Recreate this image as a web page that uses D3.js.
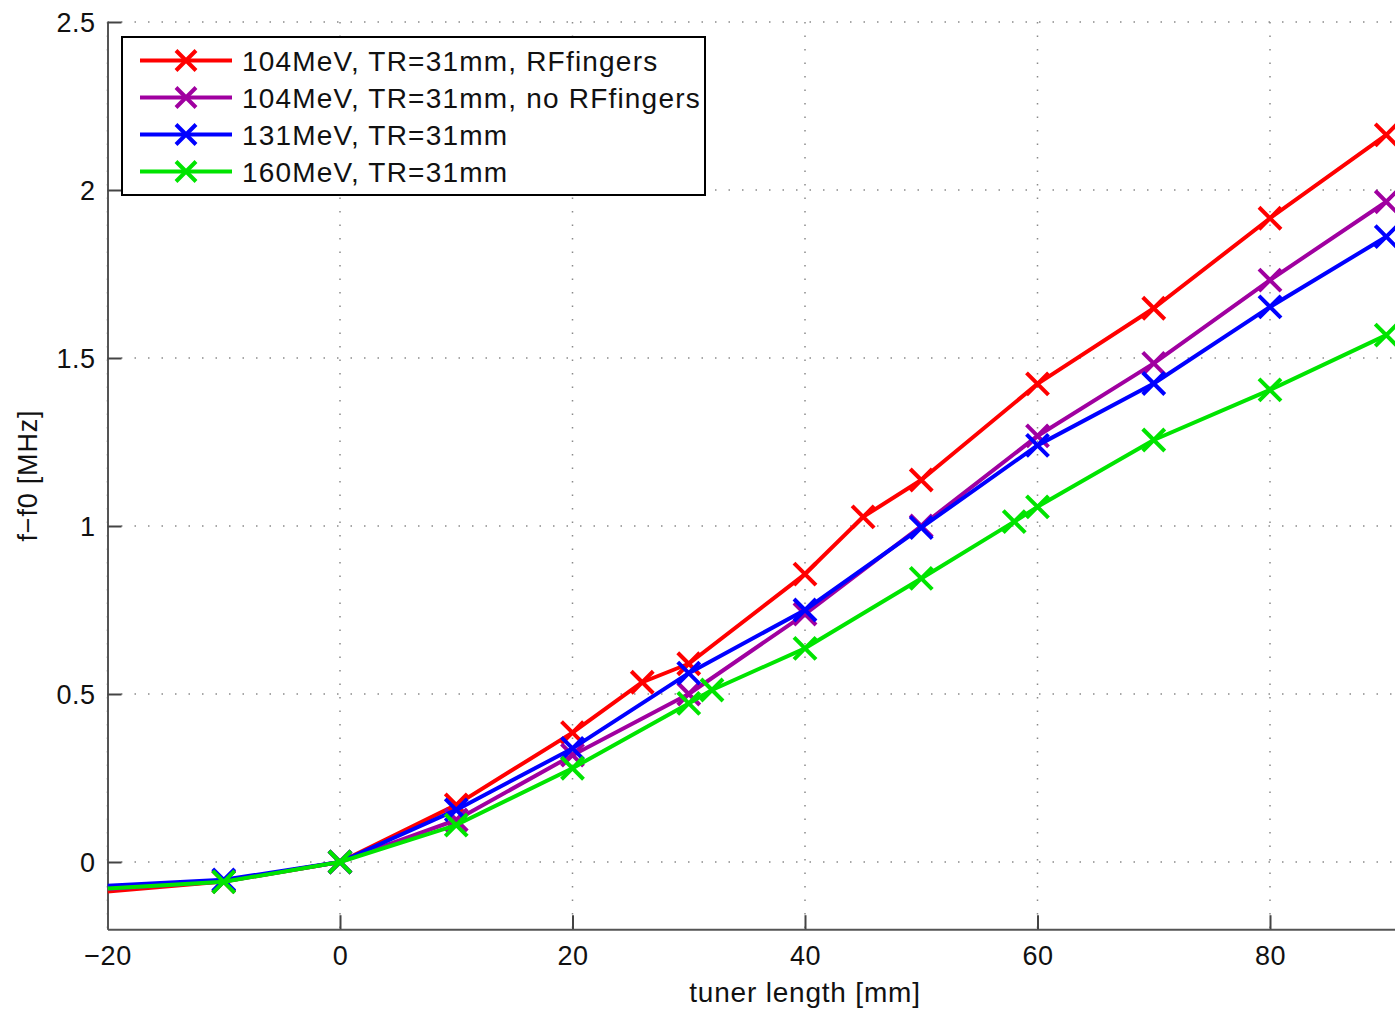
<!DOCTYPE html>
<html>
<head>
<meta charset="utf-8">
<script src="https://d3js.org/d3.v7.min.js"></script>
<style>
  body { margin: 0; background: #fff; }
  svg { display: block; }
</style>
</head>
<body>
<div id="chart"></div>
<script>
// data
var seriesNames = ["104MeV, TR=31mm, RFfingers", "104MeV, TR=31mm, no RFfingers", "131MeV, TR=31mm", "160MeV, TR=31mm"];
var seriesColors = ["#ff0000", "#a000a0", "#0000ff", "#00e400"];

var redX = [-20, -10, 0, 10, 20, 26, 30, 40, 45, 50, 60, 70, 80, 90];
var redY = [-0.088, -0.058, 0, 0.17, 0.385, 0.535, 0.59, 0.857, 1.027, 1.137, 1.423, 1.648, 1.916, 2.164];

var purpleX = [-20, -10, 0, 10, 20, 30, 40, 50, 60, 70, 80, 90];
var purpleY = [-0.08, -0.058, 0, 0.125, 0.318, 0.50, 0.738, 1.0, 1.268, 1.484, 1.732, 1.965];

var blueX = [-20, -10, 0, 10, 20, 30, 40, 50, 60, 70, 80, 90];
var blueY = [-0.071, -0.053, 0, 0.155, 0.338, 0.562, 0.75, 0.995, 1.24, 1.424, 1.652, 1.861];

var greenX = [-20, -10, 0, 10, 20, 30, 32, 40, 50, 58, 60, 70, 80, 90];
var greenY = [-0.079, -0.059, 0, 0.11, 0.279, 0.472, 0.512, 0.636, 0.844, 1.013, 1.057, 1.256, 1.405, 1.568];

var xTicks = [-20, 0, 20, 40, 60, 80];
var yTicks = [0, 0.5, 1, 1.5, 2, 2.5];
var xDomain = [-20, 100];
var yDomain = [-0.2, 2.5];

var w = 1395, h = 1012;
var pLeft = 107.5, pRight = 1502.5, pTop = 22, pBottom = 929.2;
var font = "'Liberation Sans', Arial, sans-serif";

var series = [];
var xs = [redX, purpleX, blueX, greenX];
var ys = [redY, purpleY, blueY, greenY];
for (var i = 0; i < xs.length; i++) {
  var pts = [];
  for (var j = 0; j < xs[i].length; j++) {
    pts.push({x: xs[i][j], y: ys[i][j]});
  }
  series.push({name: seriesNames[i], color: seriesColors[i], pts: pts});
}

var x = d3.scaleLinear().domain(xDomain).range([pLeft, pRight]);
var y = d3.scaleLinear().domain(yDomain).range([pBottom, pTop]);

var svg = d3.select("#chart")
  .append("svg")
  .attr("width", w)
  .attr("height", h);

svg.append("clipPath")
  .attr("id", "plotclip")
  .append("rect")
  .attr("x", pLeft)
  .attr("y", pTop - 12)
  .attr("width", pRight - pLeft + 12)
  .attr("height", pBottom - pTop + 12);

//dotted grid
svg.selectAll(".vgrid")
  .data(xTicks)
  .enter()
  .append("line")
  .attr("x1", function(d) { return x(d); })
  .attr("x2", function(d) { return x(d); })
  .attr("y1", pTop)
  .attr("y2", pBottom)
  .attr("stroke", "#8a8a8a")
  .attr("stroke-width", 1.5)
  .attr("stroke-dasharray", "1.5,12");

svg.selectAll(".hgrid")
  .data(yTicks)
  .enter()
  .append("line")
  .attr("x1", pLeft)
  .attr("x2", pRight)
  .attr("y1", function(d) { return y(d); })
  .attr("y2", function(d) { return y(d); })
  .attr("stroke", "#8a8a8a")
  .attr("stroke-width", 1.5)
  .attr("stroke-dasharray", "1.5,12");

//axes
var xAxis = d3.axisBottom(x).tickValues(xTicks).tickSizeInner(-14).tickSizeOuter(0)
  .tickPadding(17).tickFormat(function(d) { return d < 0 ? "\u2212" + Math.abs(d) : d; });
var yAxis = d3.axisLeft(y).tickValues(yTicks).tickSizeInner(-14).tickSizeOuter(0)
  .tickPadding(12).tickFormat(function(d) { return d; });

var gx = svg.append("g")
  .attr("transform", "translate(0," + pBottom + ")")
  .call(xAxis);
var gy = svg.append("g")
  .attr("transform", "translate(" + pLeft + ",0)")
  .call(yAxis);

[gx, gy].forEach(function(g) {
  g.select(".domain").attr("stroke", "#555").attr("stroke-width", 2);
  g.selectAll(".tick line").attr("stroke", "#444").attr("stroke-width", 2);
  g.selectAll(".tick text")
    .attr("font-family", font)
    .attr("font-size", "27px")
    .attr("letter-spacing", "0.5px")
    .attr("fill", "#111");
});
gx.selectAll(".tick text").attr("dy", "0.71em");
gy.selectAll(".tick text").attr("dy", "0.36em");

svg.append("text")
  .text("tuner length [mm]")
  .attr("x", x(40))
  .attr("y", 1002)
  .attr("text-anchor", "middle")
  .attr("font-family", font)
  .attr("font-size", "28px")
  .attr("letter-spacing", "0.8px")
  .attr("fill", "#111");

svg.append("text")
  .text("f\u2212f0 [MHz]")
  .attr("transform", "translate(37," + y(1.15) + ") rotate(-90)")
  .attr("text-anchor", "middle")
  .attr("font-family", font)
  .attr("font-size", "27px")
  .attr("letter-spacing", "0.8px")
  .attr("fill", "#111");

//lines + x markers
var line = d3.line()
  .x(function(d) { return x(d.x); })
  .y(function(d) { return y(d.y); });

var plot = svg.append("g").attr("clip-path", "url(#plotclip)");

function cross(g, cx, cy, r, color) {
  g.append("path")
    .attr("d", "M" + (cx - r) + "," + (cy - r) + "L" + (cx + r) + "," + (cy + r) +
               "M" + (cx - r) + "," + (cy + r) + "L" + (cx + r) + "," + (cy - r))
    .attr("stroke", color)
    .attr("stroke-width", 4)
    .attr("fill", "none");
}

series.forEach(function(s) {
  plot.append("path")
    .datum(s.pts)
    .attr("d", line)
    .attr("fill", "none")
    .attr("stroke", s.color)
    .attr("stroke-width", 4)
    .attr("stroke-linejoin", "round");
  s.pts.forEach(function(p) {
    if (p.x > xDomain[0]) {
      cross(plot, x(p.x), y(p.y), 11, s.color);
    }
  });
});

//legend
var lg = svg.append("g");
lg.append("rect")
  .attr("x", 122)
  .attr("y", 37)
  .attr("width", 583)
  .attr("height", 158)
  .attr("fill", "#fff")
  .attr("stroke", "#000")
  .attr("stroke-width", 2);

series.forEach(function(s, i) {
  var ly = 60.5 + i * 37;
  lg.append("line")
    .attr("x1", 140).attr("x2", 232)
    .attr("y1", ly).attr("y2", ly)
    .attr("stroke", s.color)
    .attr("stroke-width", 4);
  cross(lg, 186, ly, 10, s.color);
  lg.append("text")
    .text(s.name)
    .attr("x", 242)
    .attr("y", ly)
    .attr("dy", "0.36em")
    .attr("font-family", font)
    .attr("font-size", "28px")
    .attr("letter-spacing", "1.2px")
    .attr("fill", "#111");
});
</script>
</body>
</html>
